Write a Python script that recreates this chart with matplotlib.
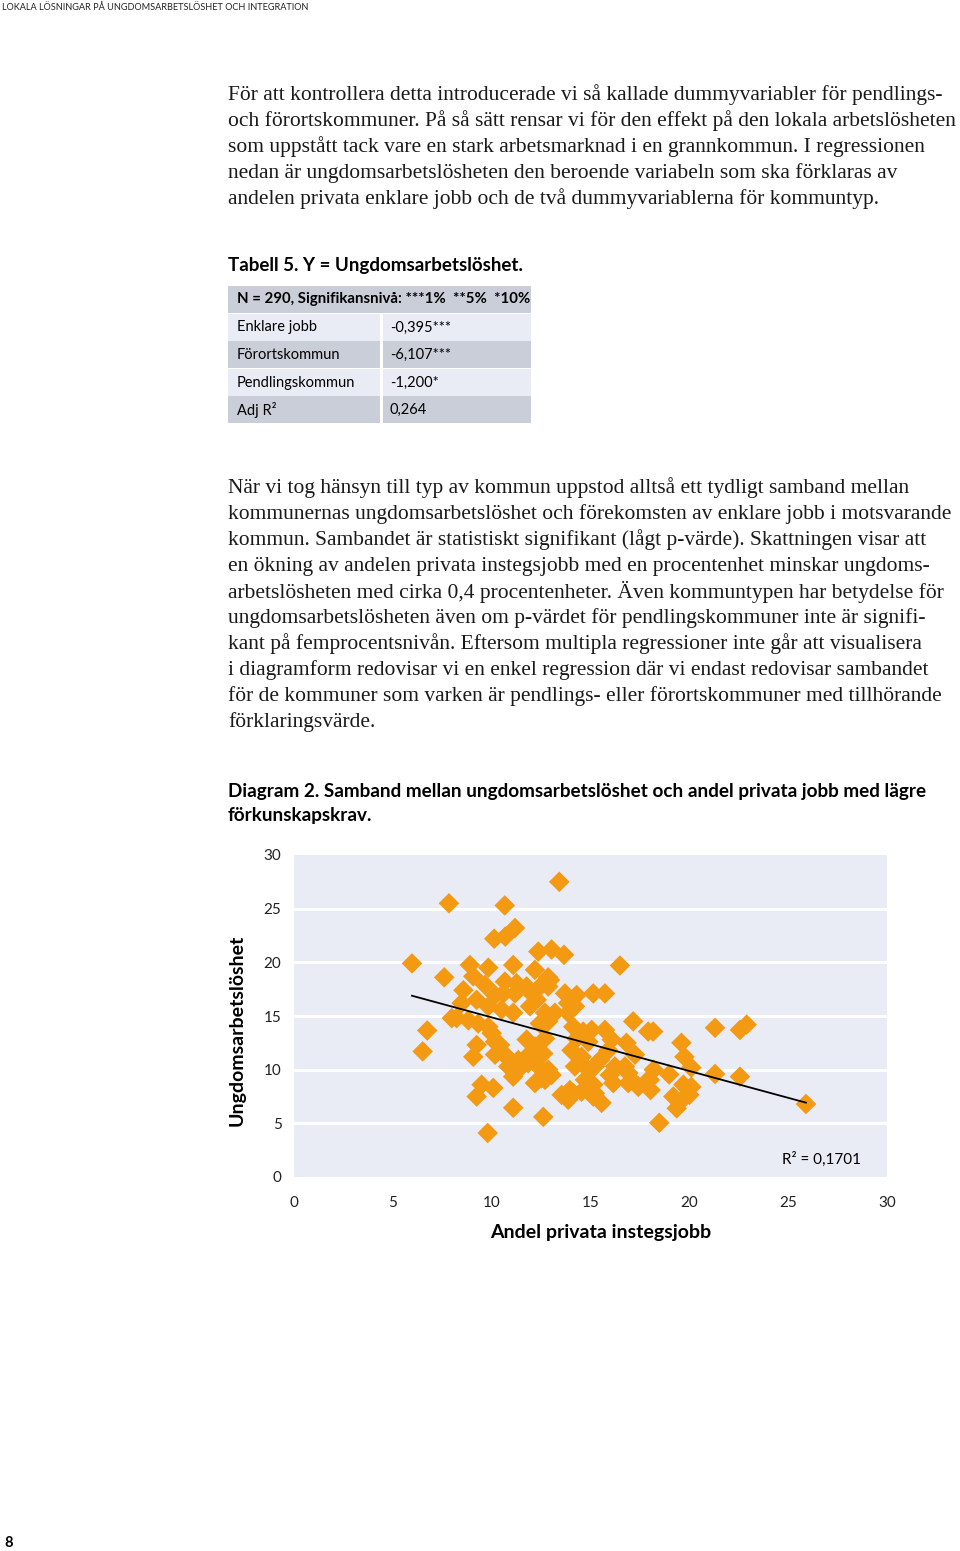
import numpy as np
import matplotlib.pyplot as plt
from matplotlib.patches import Rectangle

# scatter data (andel privata instegsjobb, ungdomsarbetsloshet)
xs = [13.42, 7.84, 10.66, 11.18, 10.69, 10.13, 12.36, 13.03, 13.66, 5.97, 16.49,
      8.9, 9.83, 11.09, 12.19, 7.6, 9.07, 12.86,
      9.66, 8.57, 10.67, 11.26, 11.77, 12.53, 12.95, 12.86,
      10.59, 11.18, 10.17, 12.02, 12.28, 11.94,
      13.71, 14.3, 13.87, 14.21, 15.14, 15.73,
      9.24, 9.83, 10.5, 11.09, 8.48, 8.23,
      12.7, 13.2, 12.86, 12.44, 13.87,
      8.82, 9.32, 9.83, 10.0, 10.17,
      14.13, 14.63, 15.06, 15.73, 14.3, 14.89,
      17.16, 17.92, 18.17, 21.3, 22.56, 22.9,
      11.77, 12.7, 12.19, 6.74, 6.51, 7.98, 9.24, 9.07,
      10.42, 10.17, 10.67, 10.92, 11.35, 11.77, 12.19, 12.61,
      16.07, 16.82, 17.25, 15.9, 15.48, 19.6, 19.75, 20.1,
      14.04, 14.55, 14.21, 14.89, 15.22,
      10.84, 11.35, 11.85, 12.36, 12.86, 13.03, 12.53, 11.09,
      12.19, 12.7, 16.24, 16.74, 16.91, 15.98,
      18.2, 18.0, 17.33, 18.98, 21.3, 22.56,
      9.49, 10.08, 9.24,
      14.72, 15.14, 14.55, 14.13, 13.54, 15.22,
      16.15, 16.91, 17.42,
      17.84, 18.04, 19.7, 20.1, 20.0, 19.19, 19.36, 19.7,
      15.56, 11.09, 13.87, 12.61, 9.8, 18.48, 25.9, 15.14, 13.96]
ys = [27.5, 25.5, 25.3, 23.2, 22.4, 22.2, 21.0, 21.2, 20.7, 19.9, 19.7,
      19.75, 19.5, 19.75, 19.3, 18.6, 18.7, 18.6,
      17.9, 17.4, 18.2, 18.05, 17.75, 17.9, 18.35, 17.75,
      17.1, 17.1, 16.95, 17.1, 16.5, 15.9,
      17.1, 16.95, 16.2, 15.9, 17.1, 17.1,
      16.5, 15.9, 15.6, 15.3, 16.2, 14.8,
      15.3, 15.3, 14.5, 14.3, 15.3,
      14.6, 14.3, 14.0, 13.4, 12.6,
      14.0, 13.55, 13.7, 13.7, 12.9, 12.6,
      14.5, 13.55, 13.55, 13.9, 13.7, 14.2,
      12.8, 12.9, 12.15, 13.65, 11.7, 14.8, 12.3, 11.2,
      12.3, 11.4, 11.4, 10.9, 10.9, 11.2, 11.4, 11.5,
      12.8, 12.5, 11.4, 11.8, 10.9, 12.5, 11.2, 10.2,
      11.8, 11.2, 10.3, 10.0, 10.3,
      10.3, 10.0, 10.6, 10.3, 10.0, 9.5, 9.2, 9.35,
      8.75, 9.05, 10.3, 10.3, 9.7, 9.5,
      10.0, 9.05, 8.6, 9.55, 9.6, 9.35,
      8.6, 8.3, 7.5,
      9.05, 8.6, 7.95, 7.8, 7.65, 7.8,
      8.75, 8.75, 8.4,
      8.9, 8.1, 8.6, 8.4, 7.65, 7.5, 6.4, 7.3,
      6.9, 6.45, 7.2, 5.6, 4.1, 5.05, 6.8, 7.5, 8.1]

xticks = [0, 5, 10, 15, 20, 25, 30]
yticks = [0, 5, 10, 15, 20, 25, 30]
r2_label = 'R² = 0,1701'

tab_head = 'N = 290, Signifikansnivå: ***1%  **5%  *10%'
tab_names = ['Enklare jobb', 'Förortskommun', 'Pendlingskommun', 'Adj R²']
tab_vals = ['-0,395***', '-6,107***', '-1,200*', '0,264']

para1 = ['För att kontrollera detta introducerade vi så kallade dummyvariabler för pendlings-',
         'och förortskommuner. På så sätt rensar vi för den effekt på den lokala arbetslösheten',
         'som uppstått tack vare en stark arbetsmarknad i en grannkommun. I regressionen',
         'nedan är ungdomsarbetslösheten den beroende variabeln som ska förklaras av',
         'andelen privata enklare jobb och de två dummyvariablerna för kommuntyp.']
para2 = ['När vi tog hänsyn till typ av kommun uppstod alltså ett tydligt samband mellan',
         'kommunernas ungdomsarbetslöshet och förekomsten av enklare jobb i motsvarande',
         'kommun. Sambandet är statistiskt signifikant (lågt p-värde). Skattningen visar att',
         'en ökning av andelen privata instegsjobb med en procentenhet minskar ungdoms-',
         'arbetslösheten med cirka 0,4 procentenheter. Även kommuntypen har betydelse för',
         'ungdomsarbetslösheten även om p-värdet för pendlingskommuner inte är signifi-',
         'kant på femprocentsnivån. Eftersom multipla regressioner inte går att visualisera',
         'i diagramform redovisar vi en enkel regression där vi endast redovisar sambandet',
         'för de kommuner som varken är pendlings- eller förortskommuner med tillhörande',
         'förklaringsvärde.']

W, H = 960, 1551
SANS = ['Lato', 'DejaVu Sans']
SERIF = ['Liberation Serif', 'DejaVu Serif']
ORANGE = '#F39A12'
PANEL = '#E9ECF4'
DARK = '#C9CED8'

fig = plt.figure(figsize=(9.6, 15.51), dpi=100)


def put(x, y, s, **kw):
    # pixel position on the page -> figure fraction
    fig.text(x / W, 1 - y / H, s, **kw)


put(2, 7, 'LOKALA LÖSNINGAR PÅ UNGDOMSARBETSLÖSHET OCH INTEGRATION',
    fontsize=6.6, family=SANS, va='center', color='#222222')
put(4, 1543, '8', fontsize=10.5, weight='bold', family=SANS, va='center')

for i, line in enumerate(para1):
    put(228, 95 + 26 * i, line, fontsize=15.5, family=SERIF, va='center', color='#1a1a1a')
for i, line in enumerate(para2):
    put(228, 488 + 26 * i, line, fontsize=15.5, family=SERIF, va='center', color='#1a1a1a')

# table
put(228, 265, 'Tabell 5. Y = Ungdomsarbetslöshet.', fontsize=13.5, weight='bold',
    family=SANS, va='center')


def rect(x0, y0, x1, y1, c):
    fig.add_artist(Rectangle((x0 / W, 1 - y1 / H), (x1 - x0) / W, (y1 - y0) / H,
                             transform=fig.transFigure, facecolor=c, edgecolor='none'))


rect(228, 286, 531, 313, DARK)
put(237, 299.5, tab_head, fontsize=10.8, weight='bold', family=SANS, va='center')
for i, (nm, v) in enumerate(zip(tab_names, tab_vals)):
    y0 = 314 + 27.5 * i
    c = PANEL if i % 2 == 0 else DARK
    rect(228, y0, 380, y0 + 26.5, c)
    rect(383, y0, 531, y0 + 26.5, c)
    put(237, y0 + 13.5, nm, fontsize=10.5, family=SANS, va='center')
    put(390, y0 + 13.5, v, fontsize=10.5, family=SANS, va='center')

# diagram caption
put(228, 792, 'Diagram 2. Samband mellan ungdomsarbetslöshet och andel privata jobb med lägre',
    fontsize=13.55, weight='bold', family=SANS, va='center')
put(228, 816, 'förkunskapskrav.', fontsize=13.55, weight='bold', family=SANS, va='center')

ax = fig.add_axes([294 / W, 1 - 1177 / H, (887 - 294) / W, (1177 - 855) / H])
ax.set_facecolor(PANEL)
ax.set_xlim(0, 30)
ax.set_ylim(0, 30)
for g in yticks[1:-1]:
    ax.axhline(g, color='white', lw=2.2, zorder=1)
ax.scatter(xs, ys, marker='D', s=110, color=ORANGE, edgecolors='none', zorder=2)

xa = np.array(xs)
k, m = np.polyfit(xa, np.array(ys), 1)
xl = np.array([xa.min(), xa.max()])
ax.plot(xl, k * xl + m, color='black', lw=1.3, zorder=3)
ax.text(24.7, 1.6, r2_label, fontsize=11, family=SANS, va='center')

for s in ax.spines.values():
    s.set_visible(False)
ax.set_xticks(xticks)
ax.set_yticks(yticks)
ax.tick_params(length=0, labelsize=11, colors='#222222')
ax.tick_params(axis='x', pad=14)
ax.tick_params(axis='y', pad=9)
for lab in ax.get_xticklabels() + ax.get_yticklabels():
    lab.set_family(SANS)
ax.set_xlabel('Andel privata instegsjobb', fontsize=14, weight='bold', family=SANS)
ax.set_ylabel('Ungdomsarbetslöshet', fontsize=14, weight='bold', family=SANS)
ax.xaxis.set_label_coords((601 - 294) / 593, -47 / 322)
ax.yaxis.set_label_coords(-48 / 593, (1177 - 1030) / 322)

fig.savefig('out.png', dpi=100)
